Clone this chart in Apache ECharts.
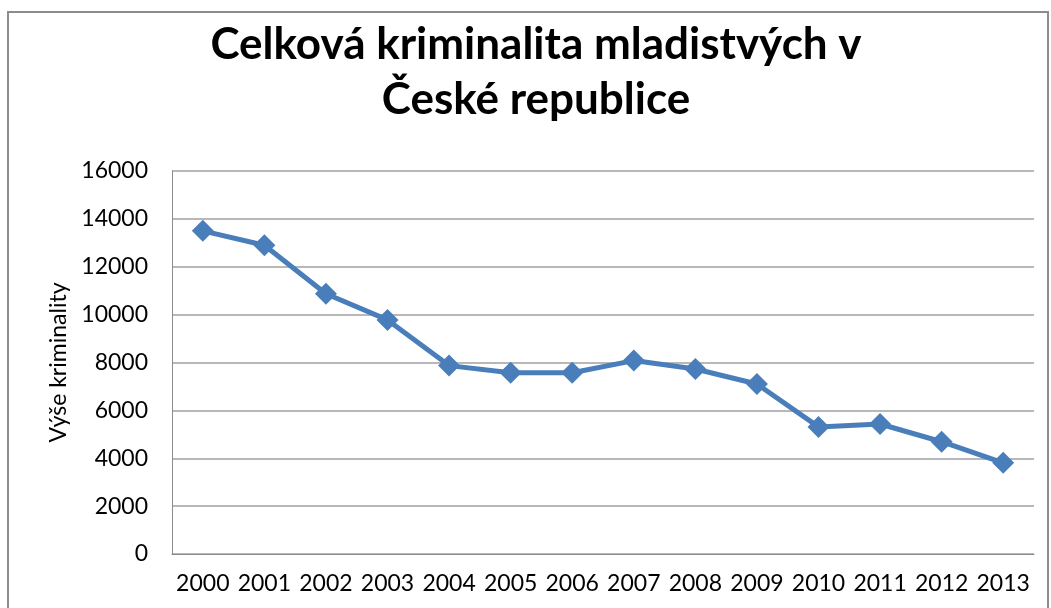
<!DOCTYPE html>
<html>
<head>
<meta charset="utf-8">
<script src="https://cdn.jsdelivr.net/npm/echarts@6/dist/echarts.min.js"></script>
<style>
  html, body { margin: 0; padding: 0; background: #fff; }
  #chart { width: 1051px; height: 608px; }
</style>
</head>
<body>
<div id="chart"></div>
<script>
// data
var years = ['2000', '2001', '2002', '2003', '2004', '2005', '2006',
             '2007', '2008', '2009', '2010', '2011', '2012', '2013'];
var kriminalita = [13500, 12900, 10870, 9780, 7870, 7570, 7570,
                   8080, 7730, 7100, 5310, 5430, 4690, 3810];

var myChart = echarts.init(document.getElementById('chart'));

var option = {
    backgroundColor: '#ffffff',
    animation: false,
    title: {
        text: 'Celková kriminalita mladistvých v\nČeské republice',
        left: 531,
        top: 12,
        textAlign: 'center',
        textStyle: {
            fontFamily: 'Lato',
            fontWeight: 'bold',
            fontSize: 44,
            lineHeight: 55,
            color: '#000'
        }
    },
    graphic: [{
        type: 'rect',
        shape: { x: 8, y: 12, width: 1040, height: 620 },
        style: { fill: 'none', stroke: '#8c8c8c', lineWidth: 2 },
        silent: true
    }],
    grid: { left: 172, top: 171, right: 17, bottom: 54 },
    xAxis: {
        type: 'category',
        data: years,
        boundaryGap: true,
        axisLine: { show: true, lineStyle: { color: '#8c8c8c', width: 1 } },
        axisTick: { show: false },
        axisLabel: { fontFamily: 'Lato', fontSize: 23, color: '#000', margin: 18, interval: 0 }
    },
    yAxis: {
        type: 'value',
        min: 0,
        max: 16000,
        interval: 2000,
        name: 'Výše kriminality',
        nameLocation: 'middle',
        nameGap: 102,
        nameTextStyle: { fontFamily: 'Lato', fontSize: 23, color: '#000' },
        axisLine: { show: true, lineStyle: { color: '#8c8c8c', width: 1 } },
        axisTick: { show: false },
        axisLabel: {
            fontFamily: 'Lato', fontSize: 23, color: '#000', margin: 24,
            formatter: function (v) { return String(v); }
        },
        splitLine: { lineStyle: { color: '#a0a0a0', width: 1.5 } }
    },
    series: [{
        name: 'Výše kriminality',
        type: 'line',
        data: kriminalita,
        symbol: 'diamond',
        symbolSize: 22,
        lineStyle: { color: '#4a7ebb', width: 5 },
        itemStyle: { color: '#4a7ebb' }
    }]
};

myChart.setOption(option);
</script>
</body>
</html>
